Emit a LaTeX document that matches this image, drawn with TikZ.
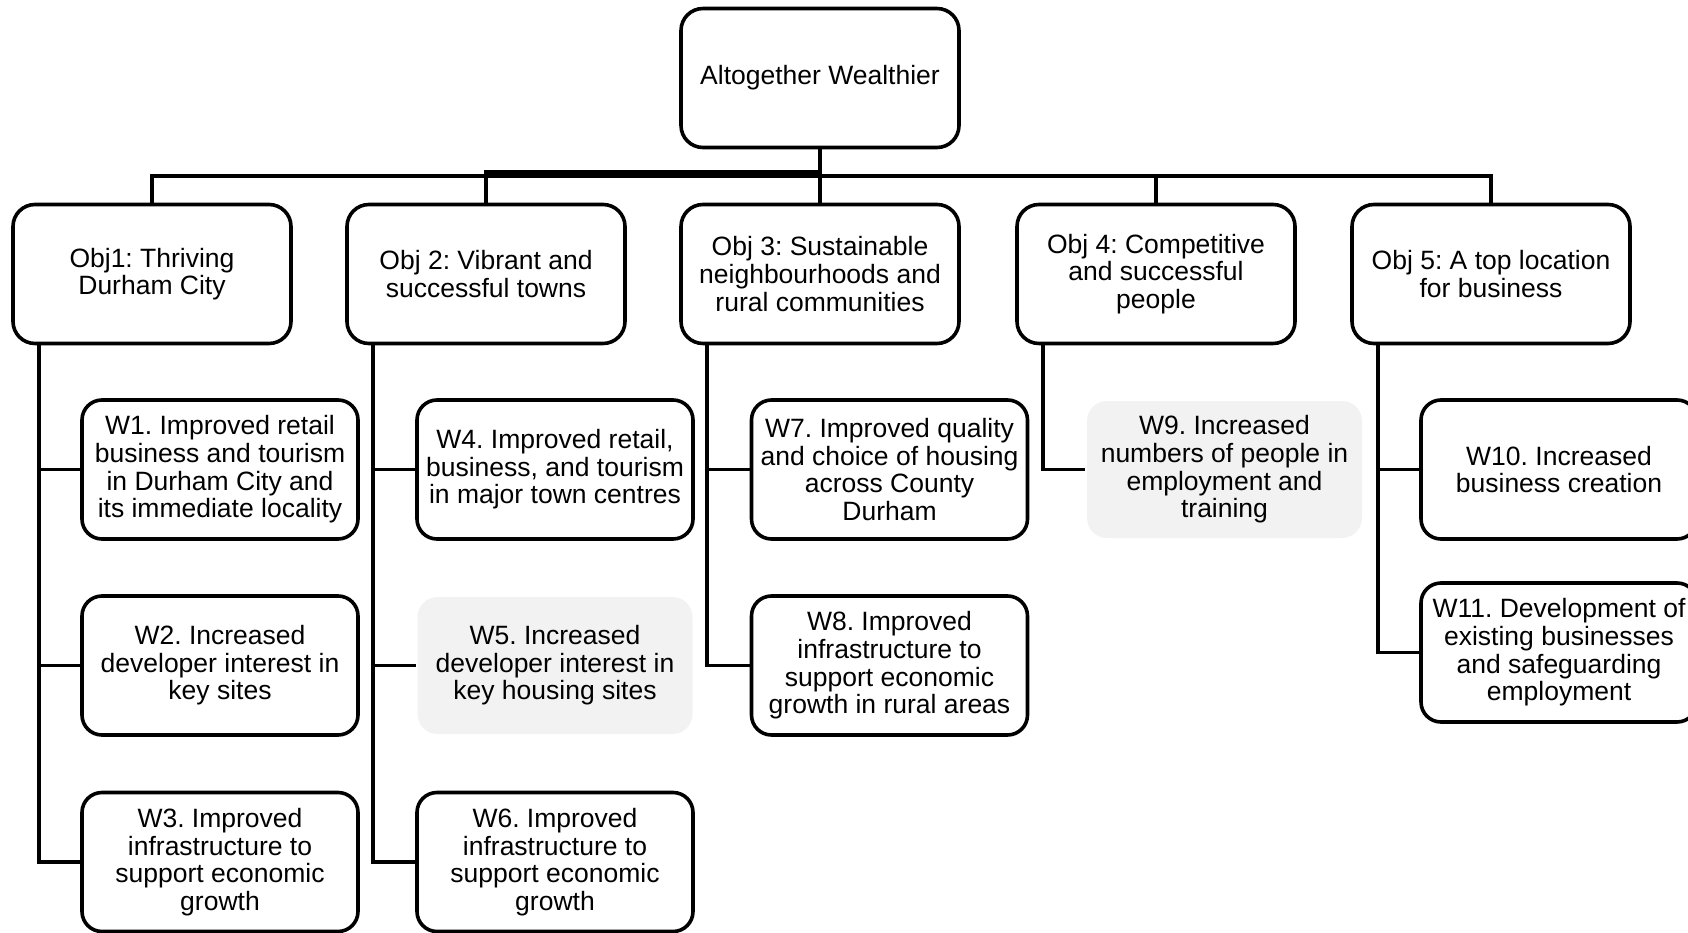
\documentclass[tikz,border=0pt]{standalone}
\usepackage{fontspec}
\setmainfont{Liberation Sans}
\frenchspacing
\newcommand\boxfont{\fontsize{26.5}{27.6}\selectfont\frenchspacing}
\begin{document}
\begin{tikzpicture}[x=1pt,y=-1pt,
  box/.style={draw=black, line width=3.6pt, rounded corners=22pt, fill=white,
    align=center, font=\boxfont, inner sep=0pt,
    minimum width=278pt, minimum height=139pt},
  wbox/.style={box, rounded corners=20pt, minimum width=276pt},
  gbox/.style={wbox, draw=none, fill=black!5, minimum width=275pt, minimum height=137pt},
  conn/.style={draw=black, line width=3.6pt}]
\useasboundingbox (0,0) rectangle (1688,933);
% root and objectives
\node[box] (root) at (820,78) {Altogether Wealthier};
\node[box] (o1) at (152,274) {Obj1: Thriving\\Durham City};
\node[box] (o2) at (486,274) {Obj 2: Vibrant and\\successful towns};
\node[box] (o3) at (820,274) {Obj 3: Sustainable\\neighbourhoods and\\rural communities};
\node[box] (o4) at (1156,274) {Obj 4: Competitive\\and successful\\people};
\node[box] (o5) at (1491,274) {Obj 5: A top location\\for business};
% children
\node[wbox] (w1) at (220,469.5) {W1. Improved retail\\business and tourism\\in Durham City and\\its immediate locality};
\node[wbox] (w2) at (220,665.5) {W2. Increased\\developer interest in\\key sites};
\node[wbox] (w3) at (220,862) {W3. Improved\\infrastructure to\\support economic\\growth};
\node[wbox] (w4) at (555,469.5) {W4. Improved retail,\\business, and tourism\\in major town centres};
\node[gbox] (w5) at (555,665.5) {W5. Increased\\developer interest in\\key housing sites};
\node[wbox] (w6) at (555,862) {W6. Improved\\infrastructure to\\support economic\\growth};
\node[wbox] (w7) at (889.5,469.5) {W7. Improved quality\\and choice of housing\\across County\\Durham};
\node[wbox] (w8) at (889.5,665.5) {W8. Improved\\infrastructure to\\support economic\\growth in rural areas};
\node[gbox] (w9) at (1224.5,469.5) {W9. Increased\\numbers of people in\\employment and\\training};
\node[wbox] (w10) at (1559,469.5) {W10. Increased\\business creation};
\node[wbox] (w11) at (1559,652.5) {W11. Development of\\existing businesses\\and safeguarding\\employment};
% bus coordinates
\coordinate (bus) at (0,176);
\coordinate (busb) at (0,172);
\draw[conn] (root.south) |- (o1.north |- bus) -- (o1.north);
\draw[conn] (root.south) |- (o2.north |- busb) -- (o2.north);
\draw[conn] (root.south) -- (o3.north);
\draw[conn] (root.south) |- (o4.north |- bus) -- (o4.north);
\draw[conn] (root.south) |- (o5.north |- bus) -- (o5.north);
% spines
\coordinate (s1) at ([xshift=28pt]o1.south west);
\coordinate (s2) at ([xshift=28pt]o2.south west);
\coordinate (s3) at ([xshift=28pt]o3.south west);
\coordinate (s4) at ([xshift=28pt]o4.south west);
\coordinate (s5) at ([xshift=28pt]o5.south west);
\draw[conn] (s1) |- (w1.west);
\draw[conn] (s1) |- (w2.west);
\draw[conn] (s1) |- (w3.west);
\draw[conn] (s2) |- (w4.west);
\draw[conn] (s2) |- (w5.west);
\draw[conn] (s2) |- (w6.west);
\draw[conn] (s3) |- (w7.west);
\draw[conn] (s3) |- (w8.west);
\draw[conn] (s4) |- (w9.west);
\draw[conn] (s5) |- (w10.west);
\draw[conn] (s5) |- (w11.west);
\end{tikzpicture}
\end{document}
